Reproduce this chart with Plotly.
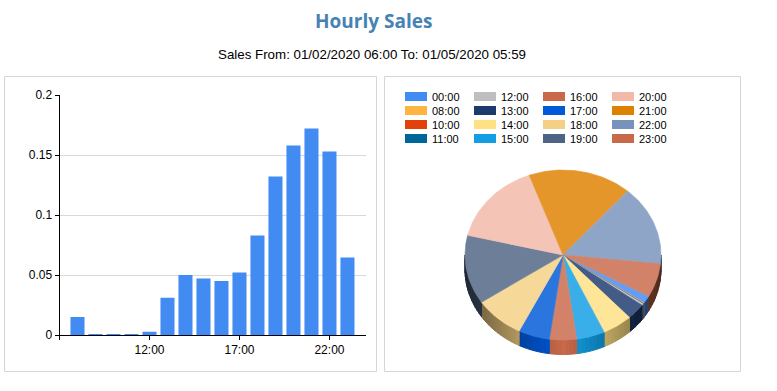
import numpy as np
import plotly.graph_objects as go

W, H = 777, 391

hours = ["00:00", "08:00", "10:00", "11:00", "12:00", "13:00", "14:00", "15:00",
         "16:00", "17:00", "18:00", "19:00", "20:00", "21:00", "22:00", "23:00"]
sales = [0.015, 0.0008, 0.0008, 0.0008, 0.0028, 0.031, 0.050, 0.047,
         0.045, 0.052, 0.083, 0.132, 0.158, 0.172, 0.153, 0.0645]
legend_colors = ["#428BF2", "#FFB340", "#E2420A", "#006699", "#BFBFBF", "#1C3A6E", "#FFE082", "#119EE4",
                 "#C8694A", "#0059D9", "#F4D084", "#4F6484", "#F2B8A8", "#E08000", "#7892BD", "#C8694A"]
x_tick_labels = ["12:00", "17:00", "22:00"]
y_tick_values = [0, 0.05, 0.1, 0.15, 0.2]
y_tick_labels = ["0", "0.05", "0.1", "0.15", "0.2"]

title = "Hourly Sales"
subtitle = "Sales From: 01/02/2020 06:00 To: 01/05/2020 05:59"

FONT = "Liberation Sans, Arial, sans-serif"


def rgb(hexstr):
    return np.array([int(hexstr[i:i + 2], 16) for i in (1, 3, 5)], dtype=float)


def css(c):
    return "rgb(%d,%d,%d)" % tuple(int(round(v)) for v in c)


fig = go.Figure()

# Bars
idx = list(range(len(hours)))
fig.add_trace(go.Bar(x=idx, y=sales, marker=dict(color="#428BF2", line=dict(width=0)),
                     width=0.78, hoverinfo="skip", showlegend=False))

# Pseudo-3D pie, derived from the sales values, on a pixel-scaled helper axis
cx, cy, rx, ry, depth = 563.0, 255.0, 98.0, 85.0, 14.5
start = np.radians(29.0)
fractions = np.array(sales) / np.sum(sales)
edges = start + 2 * np.pi * np.concatenate([[0], np.cumsum(fractions)])


def add_poly(xs, ys, color, width=0.6):
    xs = np.append(xs, xs[0])
    ys = np.append(ys, ys[0])
    fig.add_trace(go.Scatter(x=xs, y=ys, xaxis="x2", yaxis="y2", mode="lines", fill="toself",
                             fillcolor=color, line=dict(color=color, width=width),
                             hoverinfo="skip", showlegend=False))


# Wall: only the near half of the rim (0..180 degrees) is visible
for i, col in enumerate(legend_colors):
    base = rgb(col)
    for k in range(-1, 1):
        a0, a1 = edges[i] + 2 * np.pi * k, edges[i + 1] + 2 * np.pi * k
        lo, hi = max(a0, 0.0), min(a1, np.pi)
        if hi <= lo:
            continue
        n = max(1, int(np.ceil((hi - lo) / np.radians(2.5))))
        steps = np.linspace(lo, hi, n + 1)
        for s0, s1 in zip(steps[:-1], steps[1:]):
            t = np.linspace(s0, s1, 3)
            xs = cx + rx * np.cos(t)
            ytop = cy + ry * np.sin(t)
            shade = 0.4 + 0.6 * (1 - abs(np.cos((s0 + s1) / 2)))
            add_poly(np.concatenate([xs, xs[::-1]]),
                     np.concatenate([ytop, ytop[::-1] + depth]),
                     css(base * shade), width=1)

# Top face
for i, col in enumerate(legend_colors):
    face = rgb(col) * 0.83 + 255 * 0.17
    t = np.linspace(edges[i], edges[i + 1], max(3, int(fractions[i] * 360)))
    add_poly(np.concatenate([[cx], cx + rx * np.cos(t)]),
             np.concatenate([[cy], cy + ry * np.sin(t)]),
             css(face))

shapes = []
annotations = []

# Panel frames
for x0, x1 in ((4.5, 376.5), (384.5, 740.5)):
    shapes.append(dict(type="rect", xref="x2", yref="y2", x0=x0, x1=x1, y0=76.5, y1=371.5,
                       line=dict(color="#D6D6D6", width=1), fillcolor="rgba(0,0,0,0)", layer="below"))

# Legend: four columns, filled top to bottom
for i, (name, col) in enumerate(zip(hours, legend_colors)):
    if i < 4:
        c, r = 0, i
    else:
        c, r = 1 + (i - 4) // 4, (i - 4) % 4
    x0 = 405 + 69 * c
    y0 = 92 + 14 * r
    shapes.append(dict(type="rect", xref="x2", yref="y2", x0=x0, x1=x0 + 22, y0=y0, y1=y0 + 9,
                       line=dict(width=0), fillcolor=col))
    annotations.append(dict(xref="x2", yref="y2", x=x0 + 25, y=y0 + 5, text=name, showarrow=False,
                            xanchor="left", yanchor="middle", font=dict(family=FONT, size=11, color="#000000")))

annotations.append(dict(xref="x2", yref="y2", x=373, y=21, text="<b>%s</b>" % title, showarrow=False,
                        xanchor="center", yanchor="middle",
                        font=dict(family="Open Sans, sans-serif", size=19, color="#4682B4")))
annotations.append(dict(xref="x2", yref="y2", x=372, y=54, text=subtitle, showarrow=False,
                        xanchor="center", yanchor="middle", font=dict(family=FONT, size=13.33, color="#000000")))

fig.update_layout(
    width=W, height=H, autosize=False,
    margin=dict(l=0, r=0, t=0, b=0, pad=0),
    paper_bgcolor="#FFFFFF", plot_bgcolor="rgba(0,0,0,0)",
    showlegend=False, shapes=shapes, annotations=annotations,
    xaxis=dict(domain=[59.5 / W, 366 / W], range=[-1, 16.03], tickmode="array", automargin=False,
               tickvals=[-1, 4, 9, 14], ticktext=[""] + x_tick_labels, ticks="outside", ticklen=4,
               tickcolor="#000000", showline=True, linecolor="#000000", linewidth=1, showgrid=False,
               zeroline=False, tickfont=dict(family=FONT, size=12, color="#000000")),
    yaxis=dict(domain=[(H - 335) / H, (H - 95) / H], range=[0, 0.2], tickmode="array", automargin=False,
               tickvals=y_tick_values, ticktext=y_tick_labels, ticks="outside", ticklen=4,
               tickcolor="#000000", showline=True, linecolor="#000000", linewidth=1, showgrid=True,
               gridcolor="#D9D9D9", gridwidth=1, zeroline=False,
               tickfont=dict(family=FONT, size=12, color="#000000")),
    xaxis2=dict(domain=[0, 1], range=[0, W], visible=False, anchor="y2", fixedrange=True, automargin=False),
    yaxis2=dict(domain=[0, 1], range=[H, 0], visible=False, anchor="x2", fixedrange=True, automargin=False),
)

fig.write_html("out.html", config=dict(displayModeBar=False),
               post_script="document.body.style.margin='0';document.body.style.overflow='hidden';")
